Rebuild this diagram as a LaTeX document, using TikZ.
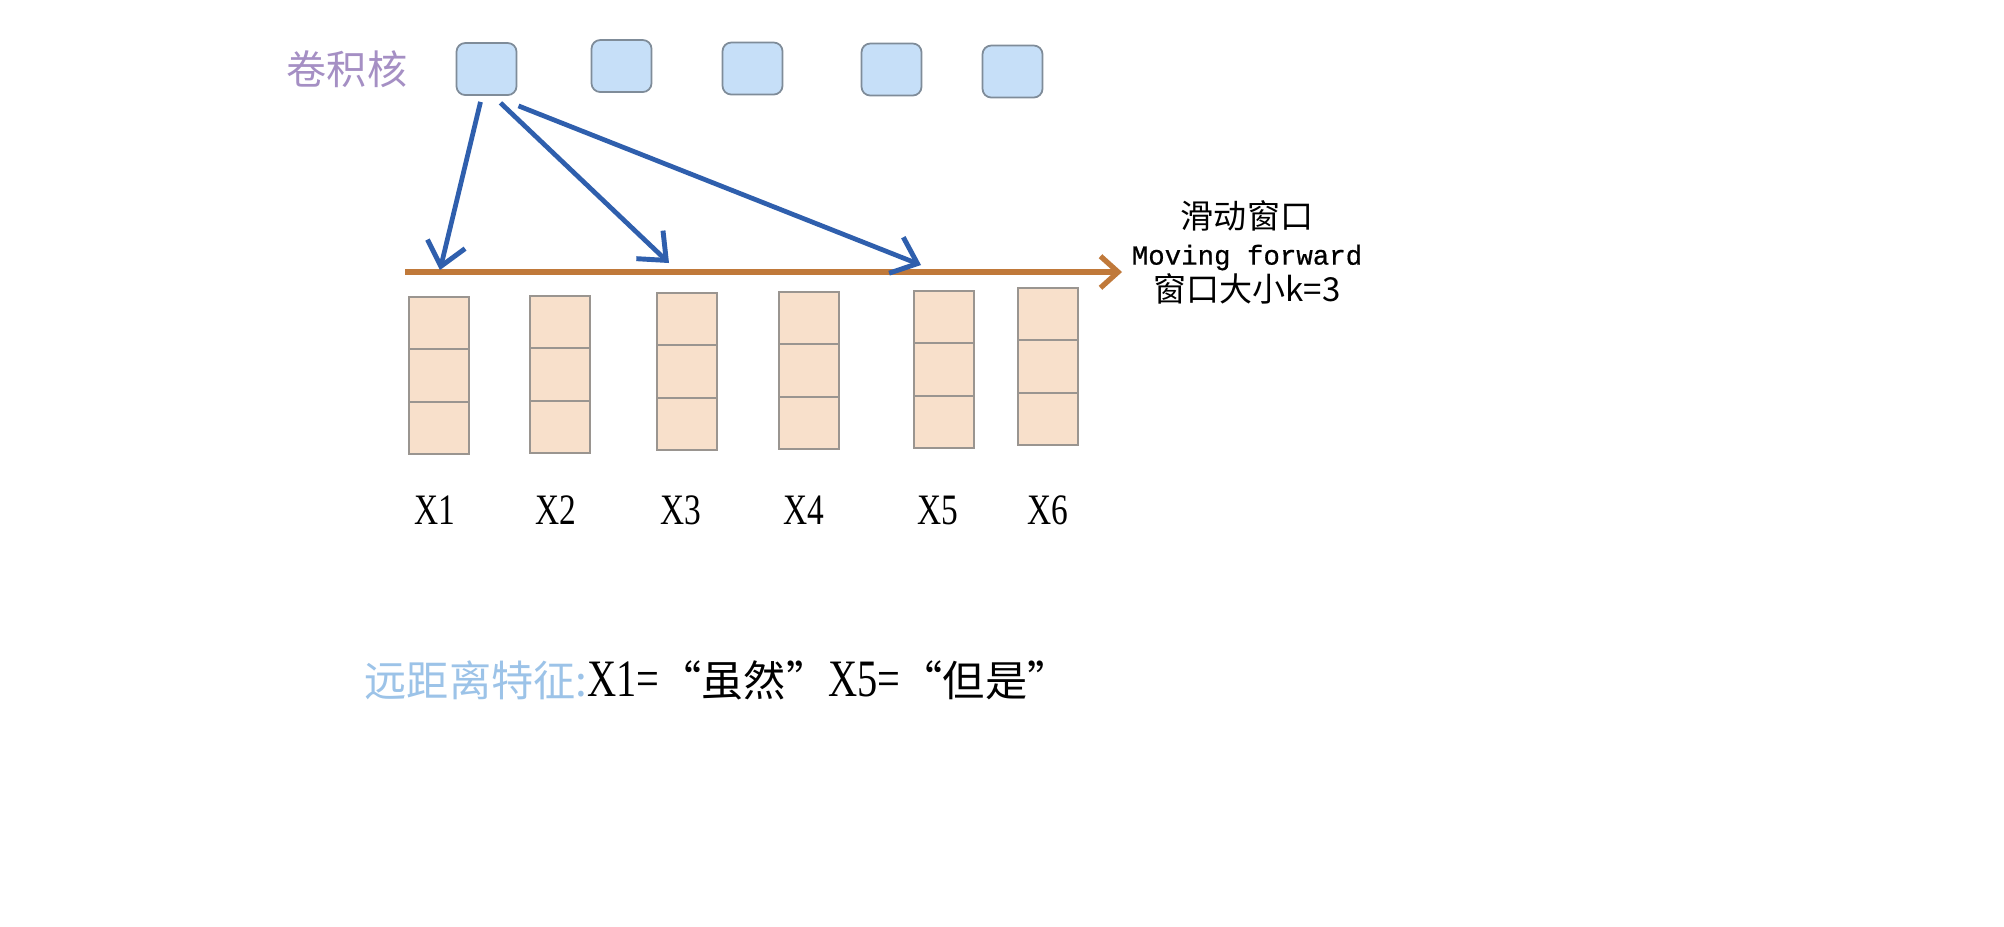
\documentclass[tikz,border=0pt]{standalone}
\usepackage{fontspec}
\usepackage{graphicx}
\setmainfont{Liberation Serif}
\newfontfamily\cjk{Noto Sans CJK SC}
\newfontfamily\monof[FakeBold=0.6]{Liberation Mono}
\usetikzlibrary{arrows.meta,calc}
\definecolor{kfill}{HTML}{C6DFF8}
\definecolor{kdraw}{HTML}{7F8C99}
\definecolor{cfill}{HTML}{F8E0CB}
\definecolor{cdraw}{HTML}{9A9590}
\definecolor{barrowc}{HTML}{2F5FAD}
\definecolor{brownc}{HTML}{C0793A}
\definecolor{purp}{HTML}{A58FC4}
\definecolor{lblue}{HTML}{9CC3E8}
\newcommand\tallx[1]{\scalebox{1}[1.3]{#1}}
\tikzset{
  kern/.style={draw=kdraw, fill=kfill, line width=0.5pt, rounded corners=2.5pt,
    minimum width=0.6cm, minimum height=0.52cm, inner sep=0pt},
  cell/.style={draw=cdraw, fill=cfill, line width=0.5pt,
    minimum width=0.6cm, minimum height=0.52cm, inner sep=0pt},
  barrow/.style={draw=barrowc, line width=1.35pt, -{Straight Barb[length=6.5pt,width=11pt,line width=1.4pt]}},
  brarrow/.style={draw=brownc, line width=1.8pt, -{Straight Barb[length=5pt,width=9pt,line width=1.5pt]}},
  xlab/.style={font=\fontsize{9.5}{11}\selectfont, inner sep=0pt},
}
\begin{document}
\begin{tikzpicture}[x=0.01cm,y=-0.01cm]
\useasboundingbox (0,0) rectangle (2004,926);
\fill[white] (0,0) rectangle (2004,926);
% label
\node[text=purp, font=\cjk\fontsize{11.4}{13}\selectfont, inner sep=0pt] (lab) at (347,69) {卷积核};
% kernels
\node[kern] (k1) at (486.5,69) {};
\node[kern] (k2) at (621.5,66) {};
\node[kern] (k3) at (752.5,68.5) {};
\node[kern] (k4) at (891.5,69.5) {};
\node[kern] (k5) at (1012.5,71.5) {};
% brown arrow
\coordinate (bs) at (405,272);
\coordinate (be) at (1122,272);
\draw[brarrow] (bs) -- (be);
% blue arrows
\coordinate (t1) at (440,270);
\coordinate (t2) at (669,263);
\coordinate (t3) at (921,265);
\draw[barrow] ($(k1.south)+(-6,6)$) -- (t1);
\draw[barrow] ($(k1.south)+(14,7)$) -- (t2);
\draw[barrow] ($(k1.south)+(32,10)$) -- (t3);
% right text
\node[align=center, inner sep=0pt, font=\fontsize{9.4}{10.4}\selectfont] (rt) at (1247,252) {%
  {\cjk 滑动窗口}\\
  {\monof\fontsize{7.8}{10.4}\selectfont Moving forward}\\
  {\cjk 窗口大小k=3}};
% columns of cells
\foreach \i/\xl/\yt/\lx in {1/409/297/435, 2/530/296/556, 3/657/293/681, 4/779/292/804, 5/914/291/938, 6/1018/288/1048}{
  \node[cell] (c\i a) at (\xl+30,\yt+26.2) {};
  \node[cell] (c\i b) at (\xl+30,\yt+78.5) {};
  \node[cell] (c\i c) at (\xl+30,\yt+130.8) {};
  \node[xlab] (x\i) at (\lx,510) {\tallx{X\i}};
}
% bottom text
\node[inner sep=0pt] (bt) at (717,680) {%
  {\cjk\fontsize{12}{14}\selectfont\color{lblue}远距离特征:}%
  {\fontsize{11.5}{14}\selectfont\tallx{X1=}}%
  {\cjk\fontsize{12}{14}\selectfont “虽然”}%
  {\fontsize{11.5}{14}\selectfont\tallx{X5=}}%
  {\cjk\fontsize{12}{14}\selectfont “但是”}};
\end{tikzpicture}
\end{document}
